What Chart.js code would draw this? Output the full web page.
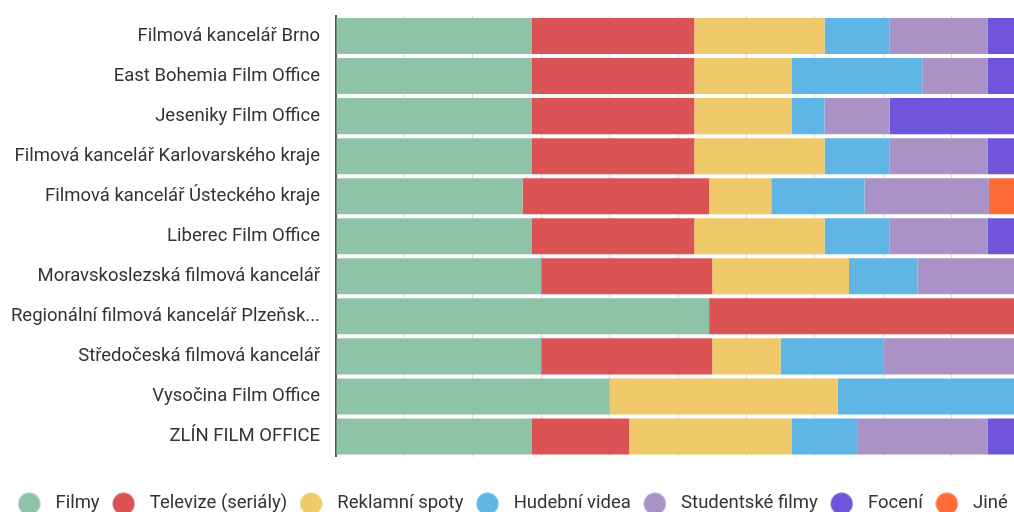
<!DOCTYPE html>
<html>
<head>
<meta charset="utf-8">
<script src="https://cdn.jsdelivr.net/npm/chart.js@4"></script>
<style>
  html, body { margin: 0; padding: 0; overflow: hidden; background: #fff; }
  #wrap { width: 1022px; height: 523px; position: relative; }
</style>
</head>
<body>
<div id="wrap"><canvas id="chart"></canvas></div>
<script>
const offices = [
  'Filmová kancelář Brno',
  'East Bohemia Film Office',
  'Jeseniky Film Office',
  'Filmová kancelář Karlovarského kraje',
  'Filmová kancelář Ústeckého kraje',
  'Liberec Film Office',
  'Moravskoslezská filmová kancelář',
  'Regionální filmová kancelář Plzeňského kraje',
  'Středočeská filmová kancelář',
  'Vysočina Film Office',
  'ZLÍN FILM OFFICE'
];

const filmy       = [6, 6, 6, 6, 6, 6, 6, 6, 6, 6, 6];
const televize    = [5, 5, 5, 5, 6, 5, 5, 5, 5, 0, 3];
const reklamni    = [4, 3, 3, 4, 2, 4, 4, 0, 2, 5, 5];
const hudebni     = [2, 4, 1, 2, 3, 2, 2, 0, 3, 4, 2];
const studentske  = [3, 2, 2, 3, 4, 3, 3, 0, 4, 0, 4];
const foceni      = [1, 1, 4, 1, 0, 1, 0, 0, 0, 0, 1];
const jine        = [0, 0, 0, 0, 1, 0, 0, 0, 0, 0, 0];

const seriesNames = ['Filmy', 'Televize (seriály)', 'Reklamní spoty', 'Hudební videa', 'Studentské filmy', 'Focení', 'Jiné'];
const seriesColors = ['#8fc3a8', '#dc5356', '#f0ca6a', '#5fb6e4', '#ab92c6', '#6f55da', '#fe6b37'];
const rawSeries = [filmy, televize, reklamni, hudebni, studentske, foceni, jine];

// turn counts into shares of each office's total
const totals = offices.map((_, i) => rawSeries.reduce((s, arr) => s + arr[i], 0));
const datasets = rawSeries.map((arr, k) => ({
  label: seriesNames[k],
  data: arr.map((v, i) => v / totals[i] * 100),
  backgroundColor: seriesColors[k],
  borderWidth: 0,
  barPercentage: 1,
  categoryPercentage: 0.9
}));

// small round markers for the legend
function dot(color) {
  const c = document.createElement('canvas');
  c.width = 23; c.height = 23;
  const g = c.getContext('2d');
  g.fillStyle = color;
  g.beginPath();
  g.arc(11.5, 11.5, 11, 0, Math.PI * 2);
  g.fill();
  return c;
}
const dots = seriesColors.map(dot);

Chart.defaults.font.family = 'Roboto, sans-serif';
Chart.defaults.color = '#333';

new Chart(document.getElementById('chart'), {
  type: 'bar',
  data: { labels: offices, datasets },
  options: {
    indexAxis: 'y',
    responsive: true,
    maintainAspectRatio: false,
    animation: false,
    layout: { padding: { top: 16, right: 2, bottom: 0, left: 0 } },
    plugins: {
      tooltip: { enabled: false },
      legend: {
        position: 'bottom',
        labels: {
          usePointStyle: true,
          pointStyleWidth: 34,
          padding: 7,
          font: { size: 18.5 },
          color: '#333',
          generateLabels: (chart) => {
            const items = Chart.defaults.plugins.legend.labels.generateLabels(chart);
            items.forEach((it, i) => { it.pointStyle = dots[i]; });
            return items;
          }
        }
      }
    },
    scales: {
      x: {
        stacked: true,
        min: 0,
        max: 100,
        ticks: { display: false, stepSize: 10 },
        grid: { color: '#dddddd', drawTicks: false },
        border: { display: false },
        afterFit: (axis) => { axis.height = 31; }
      },
      y: {
        stacked: true,
        grid: { display: false },
        border: { display: true, color: '#555', width: 2 },
        afterFit: (axis) => {
          axis.width = 336;
          axis.paddingTop = 0;
          axis.paddingBottom = 0;
        },
        ticks: {
          padding: 8,
          font: { size: 18.5 },
          color: '#333',
          callback: function (value) {
            const l = this.getLabelForValue(value);
            return l.length > 40 ? l.slice(0, 35) + '...' : l;
          }
        }
      }
    }
  }
});
</script>
</body>
</html>
